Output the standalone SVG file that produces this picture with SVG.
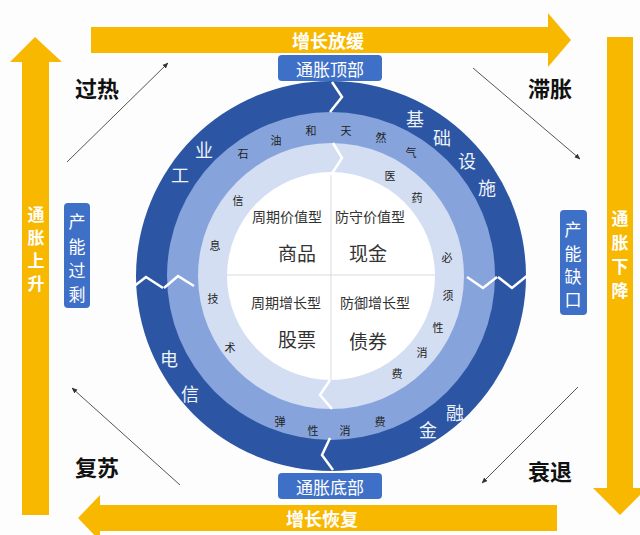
<svg xmlns="http://www.w3.org/2000/svg" width="640" height="535" viewBox="0 0 640 535">
<defs>
<style>
.cjk{font-family:"Noto Sans CJK SC","Noto Sans CJK JP",sans-serif;}
.yel{fill:#f9b800;}
.ytxt{font-size:18px;fill:#ffffff;font-weight:bold;text-anchor:middle;dominant-baseline:central;}
.vtxt{font-size:17px;fill:#ffffff;font-weight:bold;text-anchor:middle;dominant-baseline:central;}
.box{fill:#3f70c8;}
.btxt{font-size:17px;fill:#ffffff;text-anchor:middle;dominant-baseline:central;}
.corner{font-size:22px;font-weight:bold;fill:#111;text-anchor:middle;dominant-baseline:central;}
.dk{font-size:18px;fill:#eef2fb;text-anchor:middle;dominant-baseline:central;}
.sm{font-size:11px;fill:#222;text-anchor:middle;dominant-baseline:central;}
.cat{font-size:14px;fill:#333;text-anchor:middle;dominant-baseline:central;}
.big{font-size:19px;fill:#333;text-anchor:middle;dominant-baseline:central;}
.chev{fill:none;stroke:#ffffff;stroke-width:2.5;stroke-linejoin:miter;}
.thin{fill:none;stroke:#555;stroke-width:1;marker-end:url(#ah);}
</style>
<marker id="ah" viewBox="0 0 10 10" refX="9" refY="5" markerWidth="6" markerHeight="6" orient="auto">
<path d="M0,1 L10,5 L0,9 z" fill="#333"/>
</marker>
</defs>
<rect width="640" height="535" fill="#fdfdfd"/>

<g id="arrow-top">
<polygon class="yel" points="91,27 548,27 548,13 571,40 548,67 548,53 91,53"/>
<text class="cjk ytxt" x="328" y="40">增长放缓</text>
</g>
<g id="arrow-left">
<polygon class="yel" points="35,37 62,62 49,62 49,515 22,515 22,62 10,62"/>
<g class="cjk vtxt"><text x="36" y="213">通</text><text x="36" y="236">胀</text><text x="36" y="259">上</text><text x="36" y="282">升</text></g>
</g>
<g id="arrow-right">
<polygon class="yel" points="607,37 633,37 633,488 647,488 620,515 593,488 607,488"/>
<g class="cjk vtxt"><text x="620" y="217">通</text><text x="620" y="241">胀</text><text x="620" y="265">下</text><text x="620" y="289">降</text></g>
</g>
<g id="arrow-bottom">
<polygon class="yel" points="78,518 100,495 100,505 557,505 557,531 100,531 100,541"/>
<text class="cjk ytxt" x="322" y="518">增长恢复</text>
</g>

<g id="ring">
<circle cx="331" cy="276" r="195" fill="#2c56a3"/>
<circle cx="331" cy="276" r="164" fill="#86a4db"/>
<circle cx="331" cy="276" r="133" fill="#d3def3"/>
<circle cx="331" cy="276" r="104" fill="#ffffff"/>
<line x1="331" y1="175" x2="331" y2="380" stroke="#dcdcdc" stroke-width="1"/>
<line x1="227" y1="275" x2="435" y2="275" stroke="#dcdcdc" stroke-width="1"/>
<polyline class="chev" points="332,82 342,97 330,112"/>
<polyline class="chev" points="333,143 342,158 331,175"/>
<polyline class="chev" points="467,277 483,288 497,277"/>
<polyline class="chev" points="498,277 512,288 528,275"/>
<polyline class="chev" points="133,287 146,277 163,288"/>
<polyline class="chev" points="164,288 178,276 194,286"/>
<polyline class="chev" points="330,380 320,395 332,409"/>
<polyline class="chev" points="330,438 322,455 333,470"/>
</g>

<g id="ring-labels-outer" class="cjk dk">
<text x="180" y="174">工</text><text x="204" y="149">业</text>
<text x="415" y="118">基</text><text x="442" y="137">础</text><text x="467" y="160">设</text><text x="487" y="187">施</text>
<text x="169" y="358">电</text><text x="190" y="393">信</text>
<text x="428" y="429">金</text><text x="455" y="412">融</text>
</g>
<g id="ring-labels-middle" class="cjk sm">
<text x="243" y="153">石</text><text x="276" y="140">油</text><text x="311" y="130">和</text><text x="346" y="130">天</text><text x="381" y="137">然</text><text x="411" y="152">气</text>
<text x="280" y="421">弹</text><text x="313" y="430">性</text><text x="345" y="430">消</text><text x="380" y="421">费</text>
</g>
<g id="ring-labels-inner" class="cjk sm">
<text x="390" y="175">医</text><text x="417" y="197">药</text>
<text x="447" y="257">必</text><text x="448" y="295">须</text><text x="438" y="327">性</text><text x="422" y="352">消</text><text x="397" y="373">费</text>
<text x="238" y="200">信</text><text x="215" y="245">息</text><text x="213" y="298">技</text><text x="230" y="347">术</text>
</g>
<g id="quadrants" class="cjk">
<text class="cat" x="287" y="216">周期价值型</text>
<text class="cat" x="370" y="216">防守价值型</text>
<text class="big" x="297" y="252">商品</text>
<text class="big" x="368" y="252">现金</text>
<text class="cat" x="286" y="302">周期增长型</text>
<text class="cat" x="375" y="302">防御增长型</text>
<text class="big" x="297" y="338">股票</text>
<text class="big" x="368" y="340">债券</text>
</g>

<g id="box-top"><rect class="box" x="278" y="55" width="104" height="26" rx="4"/><text class="cjk btxt" x="330" y="68">通胀顶部</text></g>
<g id="box-bottom"><rect class="box" x="278" y="473" width="104" height="26" rx="4"/><text class="cjk btxt" x="330" y="486">通胀底部</text></g>
<g id="box-left"><rect class="box" x="64" y="203" width="26" height="105" rx="4"/>
<g class="cjk btxt"><text x="77" y="220">产</text><text x="77" y="245">能</text><text x="77" y="269">过</text><text x="77" y="293">剩</text></g></g>
<g id="box-right"><rect class="box" x="560" y="210" width="27" height="105" rx="4"/>
<g class="cjk btxt"><text x="573" y="228">产</text><text x="573" y="252">能</text><text x="573" y="275">缺</text><text x="573" y="298">口</text></g></g>

<g id="corner-labels" class="cjk corner">
<text x="97" y="87">过热</text>
<text x="550" y="87">滞胀</text>
<text x="97" y="466">复苏</text>
<text x="550" y="470">衰退</text>
</g>

<g id="connectors">
<line class="thin" x1="67" y1="162" x2="168" y2="63"/>
<line class="thin" x1="473" y1="68" x2="580" y2="159"/>
<line class="thin" x1="578" y1="387" x2="482" y2="483"/>
<line class="thin" x1="180" y1="485" x2="72" y2="388"/>
</g>
</svg>
